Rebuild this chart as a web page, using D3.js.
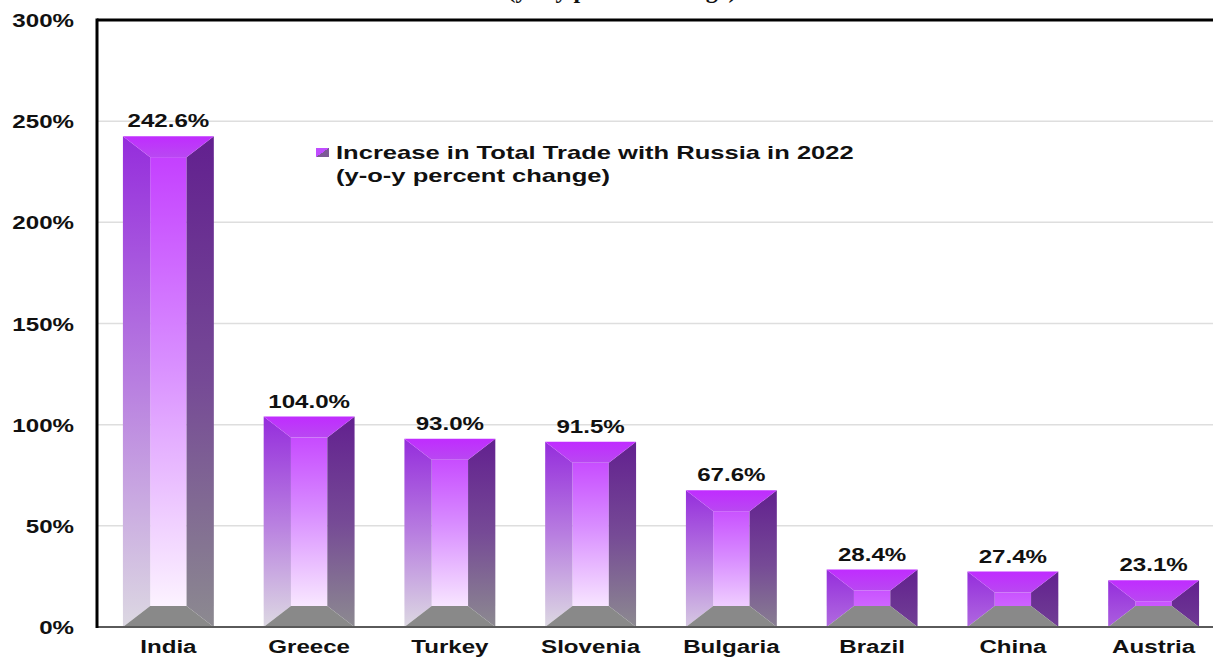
<!DOCTYPE html>
<html>
<head>
<meta charset="utf-8">
<script src="https://cdn.jsdelivr.net/npm/d3@7"></script>
<style>
  html, body { margin: 0; padding: 0; background: #fff; }
  svg { display: block; }
  text { font-family: "Liberation Sans", Arial, sans-serif; font-weight: bold; fill: #111; }
</style>
</head>
<body>
<svg id="chart" width="1213" height="658"></svg>
<script>
// Year-on-year change in total trade with Russia, 2022 (percent)
const countries = ["India", "Greece", "Turkey", "Slovenia", "Bulgaria", "Brazil", "China", "Austria"];
const tradeIncrease = [242.6, 104.0, 93.0, 91.5, 67.6, 28.4, 27.4, 23.1];
const yTicks = [0, 50, 100, 150, 200, 250, 300];
const legendLines = ["Increase in Total Trade with Russia in 2022", "(y-o-y percent change)"];
const titleLine = "(y-o-y percent change)";

const W = 1213, H = 658;
const plot = { left: 97, right: 1224, top: 20, bottom: 627 };
const SX = 1.27;   // horizontal stretch of the labels

const svg = d3.select("#chart");
const defs = svg.append("defs");

const x = d3.scaleBand().domain(countries).range([plot.left + 1, plot.right]).paddingInner(0.354).paddingOuter(0.177);
const y = d3.scaleLinear().domain([0, 300]).range([plot.bottom, plot.top]);

// gridlines
svg.append("g").selectAll("line").data(yTicks.filter(d => d > 0 && d < 300)).join("line")
  .attr("x1", plot.left).attr("x2", W)
  .attr("y1", d => y(d)).attr("y2", d => y(d))
  .attr("stroke", "#dedede").attr("stroke-width", 1.5);

// title (second line, running off the top of the page)
svg.append("text").attr("x", 622).attr("y", -2).attr("text-anchor", "middle")
  .style("font-family", "'Liberation Serif', 'Times New Roman', serif")
  .style("font-size", "24px").text(titleLine);

// y tick labels
svg.append("g").selectAll("text").data(yTicks).join("text")
  .attr("transform", d => `translate(74,${y(d) + 7}) scale(${SX},1)`)
  .attr("text-anchor", "end").style("font-size", "19px")
  .text(d => d + "%");

// gradient helper (userSpaceOnUse, vertical)
function vGrad(id, y1, y2, stops) {
  const g = defs.append("linearGradient").attr("id", id)
    .attr("gradientUnits", "userSpaceOnUse")
    .attr("x1", 0).attr("x2", 0).attr("y1", y1).attr("y2", y2);
  stops.forEach(([o, c]) => g.append("stop").attr("offset", o).attr("stop-color", c));
  return `url(#${id})`;
}

// bevelled bars
const bars = svg.append("g");
countries.forEach((c, i) => {
  const v = tradeIncrease[i];
  const x0 = x(c), x1 = x0 + x.bandwidth();
  const yt = y(v), yb = y(0);
  const h = yb - yt;
  const dx = x.bandwidth() * 0.3;
  const dy = Math.min(21, h / 2 - 1);
  const ix0 = x0 + dx, ix1 = x1 - dx, iyt = yt + dy, iyb = yb - 21 < iyt ? iyt : yb - 21;
  const span = Math.max(h, 150);
  const g = bars.append("g");

  const face = vGrad(`face${i}`, yt, yt + span, [[0, "#c238ff"], [0.45, "#d88cff"], [1, "#fffbff"]]);
  const left = vGrad(`left${i}`, yt, yt + span, [[0, "#952ddc"], [0.5, "#b87ee0"], [1, "#dcd8e2"]]);
  const right = vGrad(`right${i}`, yt, yt + span, [[0, "#62208f"], [0.5, "#764a96"], [1, "#8c8a90"]]);
  const top = vGrad(`top${i}`, yt, yt + dy, [[0, "#c02cff"], [1, "#b948f2"]]);

  // centre face
  g.append("rect").attr("x", ix0).attr("y", iyt).attr("width", ix1 - ix0).attr("height", Math.max(0, iyb - iyt)).attr("fill", face);
  // left side
  g.append("path").attr("d", `M${x0},${yt}L${ix0},${iyt}L${ix0},${iyb}L${x0},${yb}Z`).attr("fill", left);
  // right side
  g.append("path").attr("d", `M${x1},${yt}L${ix1},${iyt}L${ix1},${iyb}L${x1},${yb}Z`).attr("fill", right);
  // top bevel
  g.append("path").attr("d", `M${x0},${yt}L${x1},${yt}L${ix1},${iyt}L${ix0},${iyt}Z`).attr("fill", top);
  // bottom bevel
  g.append("path").attr("d", `M${x0},${yb}L${ix0},${iyb}L${ix1},${iyb}L${x1},${yb}Z`).attr("fill", "#898989");

  // value label
  svg.append("text")
    .attr("transform", `translate(${x0 + x.bandwidth() / 2},${yt - 9}) scale(${SX},1)`)
    .attr("text-anchor", "middle").style("font-size", "19px")
    .text(v.toFixed(1) + "%");
});

// category labels
svg.append("g").selectAll("text").data(countries).join("text")
  .attr("transform", d => `translate(${x(d) + x.bandwidth() / 2},653) scale(${SX},1)`)
  .attr("text-anchor", "middle").style("font-size", "19px")
  .text(d => d);

// axes frame
svg.append("line").attr("x1", plot.left).attr("x2", W).attr("y1", plot.bottom).attr("y2", plot.bottom)
  .attr("stroke", "#5a5a5a").attr("stroke-width", 2);
svg.append("line").attr("x1", plot.left).attr("x2", W).attr("y1", plot.top).attr("y2", plot.top)
  .attr("stroke", "#000").attr("stroke-width", 3);
svg.append("line").attr("x1", plot.left).attr("x2", plot.left).attr("y1", plot.top - 1.5).attr("y2", plot.bottom + 1)
  .attr("stroke", "#000").attr("stroke-width", 3);

// legend
const lg = defs.append("linearGradient").attr("id", "legendSwatch")
  .attr("x1", 0).attr("y1", 0).attr("x2", 1).attr("y2", 1);
lg.append("stop").attr("offset", 0.5).attr("stop-color", "#c04cff");
lg.append("stop").attr("offset", 0.5).attr("stop-color", "#7d5a96");
const legend = svg.append("g");
legend.append("rect").attr("x", 316).attr("y", 148).attr("width", 13).attr("height", 9).attr("fill", "url(#legendSwatch)");
legend.selectAll("text").data(legendLines).join("text")
  .attr("transform", (d, i) => `translate(336,${158.5 + i * 23}) scale(1.42,1)`)
  .style("font-size", "18px")
  .text(d => d);
</script>
</body>
</html>
